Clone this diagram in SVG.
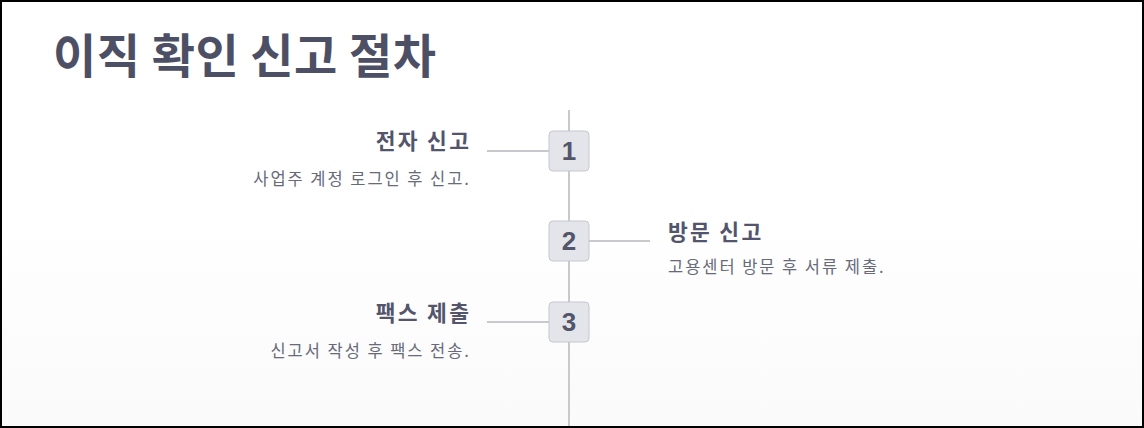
<svg xmlns="http://www.w3.org/2000/svg" width="1144" height="428" viewBox="0 0 1144 428">
<defs>
<style>
.title{font-family:"Noto Sans CJK KR","Noto Sans",sans-serif;font-weight:700;font-size:47px;letter-spacing:0.5px;fill:#4d5064}
.head{font-family:"Noto Sans CJK KR","Noto Sans",sans-serif;font-weight:700;font-size:21.5px;letter-spacing:2.3px;fill:#52556b}
.sub{font-family:"Noto Sans CJK KR","Noto Sans",sans-serif;font-size:16.5px;letter-spacing:1.95px;fill:#676a78}
.num{font-family:"Liberation Sans",Arial,sans-serif;font-weight:700;font-size:26px;fill:#53566b;text-anchor:middle}
.box{fill:#e4e5ea;stroke:#c6c7cf;stroke-width:1}
.conn{stroke:#c8c8cd;stroke-width:2;fill:none}
</style>
<linearGradient id="bg" x1="0" y1="0" x2="0" y2="1">
<stop offset="0" stop-color="#ffffff"/>
<stop offset="0.5" stop-color="#ffffff"/>
<stop offset="1" stop-color="#fafafb"/>
</linearGradient>
</defs>
<rect x="0" y="0" width="1144" height="428" fill="url(#bg)"/>
<text class="title" x="53" y="73">이직 확인 신고 절차</text>
<g id="connectors">
<line class="conn" x1="569" y1="110" x2="569" y2="428"/>
<line class="conn" x1="487" y1="151" x2="549" y2="151"/>
<line class="conn" x1="589" y1="241" x2="650" y2="241"/>
<line class="conn" x1="487" y1="322" x2="549" y2="322"/>
</g>
<g id="step1">
<rect class="box" x="549" y="131" width="40" height="40" rx="4"/>
<text class="num" x="569" y="160">1</text>
<text class="head" x="471.3" y="149" text-anchor="end">전자 신고</text>
<text class="sub" x="470.9" y="185" text-anchor="end">사업주 계정 로그인 후 신고.</text>
</g>
<g id="step2">
<rect class="box" x="549" y="221" width="40" height="40" rx="4"/>
<text class="num" x="569" y="250">2</text>
<text class="head" x="668" y="240">방문 신고</text>
<text class="sub" x="668" y="273">고용센터 방문 후 서류 제출.</text>
</g>
<g id="step3">
<rect class="box" x="549" y="302" width="40" height="40" rx="4"/>
<text class="num" x="569" y="331">3</text>
<text class="head" x="471.3" y="321" text-anchor="end">팩스 제출</text>
<text class="sub" x="470.9" y="357" text-anchor="end">신고서 작성 후 팩스 전송.</text>
</g>
<rect x="1" y="1" width="1142" height="426" fill="none" stroke="#000" stroke-width="2"/>
</svg>
